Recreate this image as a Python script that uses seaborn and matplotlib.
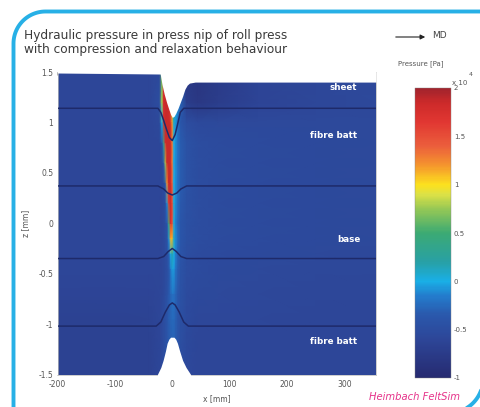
import numpy as np
import pandas as pd
import matplotlib
matplotlib.use("Agg")
import matplotlib.pyplot as plt
from matplotlib.colors import LinearSegmentedColormap
import seaborn as sns

# ---------------- data ----------------
# pressure field in 10^4 Pa on a coarse grid (rows: z, columns: x)
x_nodes = [-200, -40, -22, -18, -15, -12, -9, -6, -3, 0, 3, 6, 10, 15, 25, 45, 80, 150, 250, 355]
z_nodes = [-1.5, -1.2, -0.95, -0.7, -0.45, -0.3, -0.15, 0.0, 0.2, 0.4, 0.6, 0.8, 1.0, 1.2, 1.5]
pressure = [
    [-0.65, -0.65, -0.6, -0.55, -0.5, -0.45, -0.42, -0.4, -0.38, -0.38, -0.38, -0.4, -0.45, -0.5, -0.56, -0.6, -0.6, -0.6, -0.6, -0.6],
    [-0.65, -0.65, -0.6, -0.55, -0.5, -0.45, -0.4, -0.36, -0.32, -0.3, -0.3, -0.34, -0.4, -0.48, -0.55, -0.6, -0.6, -0.6, -0.6, -0.6],
    [-0.65, -0.64, -0.6, -0.55, -0.5, -0.45, -0.38, -0.32, -0.28, -0.26, -0.26, -0.3, -0.38, -0.46, -0.54, -0.58, -0.58, -0.58, -0.6, -0.6],
    [-0.62, -0.62, -0.6, -0.58, -0.55, -0.5, -0.44, -0.36, -0.28, -0.22, -0.22, -0.28, -0.36, -0.44, -0.52, -0.55, -0.56, -0.57, -0.58, -0.58],
    [-0.6, -0.6, -0.6, -0.58, -0.56, -0.53, -0.48, -0.4, -0.2, -0.04, -0.06, -0.2, -0.32, -0.42, -0.5, -0.53, -0.55, -0.56, -0.57, -0.57],
    [-0.6, -0.6, -0.6, -0.58, -0.56, -0.52, -0.46, -0.33, 0.0, 0.2, 0.02, -0.15, -0.3, -0.4, -0.48, -0.52, -0.54, -0.55, -0.56, -0.57],
    [-0.6, -0.6, -0.6, -0.58, -0.55, -0.5, -0.42, -0.1, 1.1, 1.1, 0.1, -0.1, -0.25, -0.38, -0.46, -0.5, -0.52, -0.54, -0.55, -0.56],
    [-0.6, -0.6, -0.6, -0.58, -0.55, -0.5, -0.4, 0.4, 1.8, 1.5, 0.05, -0.15, -0.28, -0.38, -0.45, -0.5, -0.52, -0.54, -0.55, -0.56],
    [-0.6, -0.6, -0.6, -0.58, -0.55, -0.45, -0.1, 1.6, 1.85, 1.5, 0.05, -0.12, -0.25, -0.35, -0.44, -0.5, -0.52, -0.54, -0.55, -0.56],
    [-0.6, -0.6, -0.6, -0.58, -0.52, -0.35, 1.2, 1.85, 1.85, 1.4, 0.0, -0.1, -0.22, -0.33, -0.43, -0.5, -0.52, -0.54, -0.55, -0.56],
    [-0.6, -0.6, -0.6, -0.56, -0.42, 0.8, 1.85, 1.85, 1.85, 1.3, -0.02, -0.1, -0.22, -0.33, -0.43, -0.5, -0.52, -0.54, -0.55, -0.56],
    [-0.6, -0.6, -0.6, -0.45, 0.3, 1.8, 1.85, 1.85, 1.85, 1.3, 0.0, -0.1, -0.22, -0.33, -0.43, -0.5, -0.52, -0.54, -0.55, -0.56],
    [-0.6, -0.6, -0.56, 0.0, 1.7, 1.85, 1.85, 1.85, 1.8, 1.2, 0.1, -0.08, -0.25, -0.38, -0.5, -0.55, -0.56, -0.56, -0.56, -0.56],
    [-0.6, -0.6, -0.5, 0.8, 1.8, 1.85, 1.85, 1.8, 1.5, 0.8, 0.2, 0.0, -0.1, -0.3, -0.72, -0.8, -0.72, -0.62, -0.58, -0.56],
    [-0.6, -0.6, -0.55, 0.6, 1.7, 1.85, 1.85, 1.7, 1.4, 0.8, 0.2, 0.0, -0.2, -0.5, -0.8, -0.82, -0.75, -0.62, -0.58, -0.56],
]

# felt top surface (upper roll indentation)
top_x = [-200, -21, -18, -14, -10, -6, -3, 0, 3, 6, 10, 14, 18, 22, 26, 30, 40, 355]
top_z = [1.49, 1.48, 1.38, 1.28, 1.2, 1.13, 1.08, 1.05, 1.06, 1.09, 1.14, 1.2, 1.26, 1.33, 1.37, 1.39, 1.40, 1.40]

# lower roll bump (white)
bump_x = [-26, -20, -16, -12, -9, -6, -3, 0, 3, 6, 9, 13, 18, 24, 32]
bump_z = [-1.5, -1.43, -1.36, -1.27, -1.19, -1.15, -1.13, -1.13, -1.13, -1.15, -1.19, -1.27, -1.36, -1.43, -1.5]

# layer boundaries
line_sheet_x = [-200, -25, -20, -15, -10, -5, 0, 5, 10, 14, 20, 355]
line_sheet_z = [1.14, 1.14, 1.1, 1.02, 0.93, 0.85, 0.82, 0.88, 1.0, 1.1, 1.14, 1.14]
line_base_top_x = [-200, -25, -15, -8, 0, 8, 15, 25, 355]
line_base_top_z = [0.37, 0.37, 0.34, 0.30, 0.28, 0.30, 0.34, 0.37, 0.37]
line_base_bot_x = [-200, -25, -15, -7, 0, 7, 15, 25, 355]
line_base_bot_z = [-0.35, -0.35, -0.33, -0.28, -0.25, -0.28, -0.33, -0.35, -0.35]
line_batt_x = [-200, -28, -20, -12, -5, 0, 5, 12, 20, 28, 355]
line_batt_z = [-1.02, -1.02, -0.98, -0.88, -0.81, -0.79, -0.81, -0.88, -0.98, -1.02, -1.02]

x_ticks = [-200, -100, 0, 100, 200, 300]
z_ticks = [-1.5, -1, -0.5, 0, 0.5, 1, 1.5]
z_tick_labels = ["-1.5", "-1", "-0.5", "0", "0.5", "1", "1.5"]
cb_ticks = [-1, -0.5, 0, 0.5, 1, 1.5, 2]
cb_tick_labels = ["-1", "-0.5", "0", "0.5", "1", "1.5", "2"]

layer_labels = [("sheet", 357, 88), ("fibre batt", 357, 136), ("base", 361, 240), ("fibre batt", 357, 341)]

# ---------------- style ----------------
sns.set_style("white")
plt.rcParams['font.family'] = ['DejaVu Sans']

cmap_nodes = [
    (-1.0, (38, 42, 112)), (-0.6, (45, 70, 152)), (-0.35, (42, 88, 172)),
    (-0.15, (35, 125, 205)), (0.0, (25, 175, 230)), (0.2, (40, 160, 165)),
    (0.5, (60, 170, 115)), (0.75, (150, 200, 85)), (0.9, (220, 225, 70)),
    (1.0, (252, 225, 30)), (1.2, (245, 150, 45)), (1.4, (235, 95, 60)),
    (1.65, (225, 55, 50)), (1.85, (205, 42, 42)), (2.0, (160, 35, 45)),
]
cmap = LinearSegmentedColormap.from_list(
    "press", [((v + 1) / 3, tuple(c / 255 for c in col)) for v, col in cmap_nodes])

W, H = 480, 407
fig = plt.figure(figsize=(W / 100, H / 100), dpi=100)

# frame with rounded top-left and bottom-right corners (pixel coordinates)
fax = fig.add_axes([0, 0, 1, 1])
fax.set_xlim(0, W)
fax.set_ylim(H, 0)
fax.axis("off")
r1, r2 = 32, 34
L, T, R, B = 13.5, 11.5, 483, 413
a1 = np.linspace(np.pi, 1.5 * np.pi, 30)
a2 = np.linspace(0, 0.5 * np.pi, 30)
fx = np.concatenate([[L], L + r1 + r1 * np.cos(a1), [R], R - r2 + r2 * np.cos(a2), [0]])
fy = np.concatenate([[H + 20], T + r1 + r1 * np.sin(a1), [T], B - r2 + r2 * np.sin(a2), [B]])
fax.plot(fx, fy, color="#27b0e6", lw=2.8, solid_joinstyle="round")

fax.text(24, 35, "Hydraulic pressure in press nip of roll press", fontsize=8.7,
         color="#3a3a3a", va="center", ha="left")
fax.text(24, 50, "with compression and relaxation behaviour", fontsize=8.7,
         color="#3a3a3a", va="center", ha="left")
fax.annotate("", xy=(428, 37), xytext=(393, 37),
             arrowprops=dict(arrowstyle="-|>", color="#222222", lw=0.8, mutation_scale=7))
fax.text(432, 36, "MD", fontsize=6.5, color="#444444", va="center", ha="left")
fax.text(421, 64, "Pressure [Pa]", fontsize=5, color="#555555", va="center", ha="center")
fax.text(452, 83, "x 10", fontsize=5, color="#555555", va="center", ha="left")
fax.text(469, 74, "4", fontsize=4.5, color="#555555", va="center", ha="left")
fax.text(460, 397, "Heimbach FeltSim", fontsize=7.2, color="#e6338a", style="italic",
         va="center", ha="right")

# main axes
ax = fig.add_axes([57.5 / W, 1 - 374.5 / H, (376 - 57.5) / W, (374.5 - 72) / H])
X, Z = np.meshgrid(np.array(x_nodes, float), np.array(z_nodes, float))
mesh = ax.pcolormesh(X, Z, np.array(pressure), shading="gouraud", cmap=cmap, vmin=-1, vmax=2,
                     rasterized=True)
ax.fill_between(top_x, top_z, 1.6, color="white", lw=0, zorder=3)
ax.fill_between(bump_x, bump_z, -1.6, color="white", lw=0, zorder=3)

lines = pd.DataFrame({
    "x": line_sheet_x + line_base_top_x + line_base_bot_x + line_batt_x,
    "z": line_sheet_z + line_base_top_z + line_base_bot_z + line_batt_z,
    "layer": (["sheet"] * len(line_sheet_x) + ["base_top"] * len(line_base_top_x)
              + ["base_bot"] * len(line_base_bot_x) + ["batt"] * len(line_batt_x)),
})
sns.lineplot(data=lines, x="x", y="z", units="layer", estimator=None, sort=False,
             color="#1e2a6a", lw=1.1, ax=ax, zorder=4, legend=False)

for txt, xp, yp in layer_labels:
    ax.text(xp, yp, txt, fontsize=6.3, color="white", fontweight="bold", va="center",
            ha="right", zorder=10, transform=fax.transData)

ax.set_xlim(-200, 355)
ax.set_ylim(-1.5, 1.5)
ax.set_xticks(x_ticks)
ax.set_xticklabels([str(t) for t in x_ticks])
ax.set_yticks(z_ticks)
ax.set_yticklabels(z_tick_labels)
ax.tick_params(axis="both", which="both", direction="in", length=2, width=0.5,
               labelsize=5.5, colors="#999999", labelcolor="#555555", pad=3, top=True)
ax.tick_params(axis="x", pad=4)
for s in ax.spines.values():
    s.set_color("#bbbbbb")
    s.set_linewidth(0.5)
ax.set_xlabel("x [mm]", fontsize=5.5, color="#555555", labelpad=4)
ax.set_ylabel("z [mm]", fontsize=5.5, color="#555555", labelpad=6)

# colorbar
cax = fig.add_axes([415 / W, 1 - 378 / H, 36 / W, 290 / H])
cb = fig.colorbar(mesh, cax=cax, ticks=cb_ticks)
cb.ax.set_yticklabels(cb_tick_labels)
cb.ax.tick_params(labelsize=5, length=0, colors="#555555", pad=2)
cb.outline.set_linewidth(0.3)
cb.outline.set_edgecolor("#888888")

fig.savefig("out.png", dpi=100)
